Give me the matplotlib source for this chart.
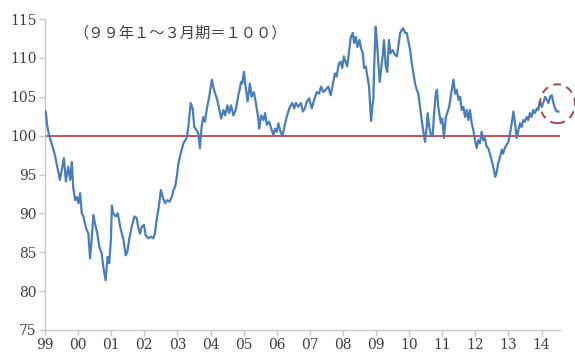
import numpy as np
import matplotlib
matplotlib.use("Agg")
import matplotlib.pyplot as plt
from matplotlib.patches import Ellipse

# 指数の推移（99年1～3月期=100）、横軸は1999年からの経過年
offsets = [
    0.02, 0.07, 0.12, 0.20, 0.30, 0.35, 0.40, 0.45, 0.57, 0.63, 0.70, 0.76, 0.81, 0.85,
    0.91, 0.96, 1.01, 1.06, 1.11, 1.16, 1.24, 1.31, 1.36, 1.41, 1.46, 1.51, 1.58, 1.64,
    1.71, 1.76, 1.83, 1.89, 1.94, 1.99, 2.02, 2.06, 2.14, 2.20, 2.27, 2.32, 2.37, 2.44,
    2.49, 2.54, 2.62, 2.70, 2.77, 2.82, 2.87, 2.92, 2.99, 3.04, 3.12, 3.20, 3.27, 3.32,
    3.37, 3.44, 3.50, 3.57, 3.63, 3.69, 3.76, 3.83, 3.88, 3.93, 3.98, 4.03, 4.08, 4.18,
    4.28, 4.33, 4.40, 4.46, 4.51, 4.58, 4.63, 4.68, 4.73, 4.78, 4.83, 4.90, 4.96, 5.04,
    5.08, 5.14, 5.19, 5.27, 5.32, 5.39, 5.44, 5.51, 5.56, 5.62, 5.69, 5.76, 5.84, 5.89,
    5.92, 5.96, 6.01, 6.06, 6.12, 6.19, 6.24, 6.31, 6.37, 6.43, 6.47, 6.53, 6.60, 6.65,
    6.70, 6.77, 6.85, 6.90, 6.95, 7.00, 7.05, 7.10, 7.17, 7.23, 7.30, 7.35, 7.40, 7.47,
    7.53, 7.58, 7.65, 7.73, 7.79, 7.85, 7.90, 7.98, 8.06, 8.13, 8.21, 8.28, 8.34, 8.41,
    8.48, 8.56, 8.63, 8.69, 8.76, 8.81, 8.88, 8.93, 8.98, 9.03, 9.08, 9.13, 9.19, 9.24,
    9.30, 9.34, 9.39, 9.44, 9.50, 9.55, 9.60, 9.64, 9.69, 9.74, 9.79, 9.82, 9.85, 9.89,
    9.92, 9.94, 9.99, 10.03, 10.07, 10.11, 10.15, 10.20, 10.24, 10.29, 10.34, 10.39,
    10.44, 10.50, 10.57, 10.63, 10.67, 10.73, 10.78, 10.82, 10.88, 10.93, 10.98, 11.03,
    11.08, 11.13, 11.18, 11.23, 11.28, 11.33, 11.38, 11.43, 11.48, 11.53, 11.56, 11.61,
    11.66, 11.71, 11.75, 11.80, 11.84, 11.88, 11.96, 12.00, 12.05, 12.11, 12.15, 12.21,
    12.27, 12.34, 12.39, 12.44, 12.49, 12.54, 12.59, 12.64, 12.69, 12.74, 12.79, 12.84,
    12.89, 12.94, 12.99, 13.04, 13.09, 13.14, 13.19, 13.24, 13.29, 13.34, 13.39, 13.44,
    13.49, 13.54, 13.60, 13.64, 13.69, 13.75, 13.80, 13.84, 13.90, 14.00, 14.05, 14.10,
    14.15, 14.20, 14.25, 14.30, 14.35, 14.40, 14.45, 14.50, 14.55, 14.60, 14.65, 14.70,
    14.75, 14.80, 14.86, 14.90, 14.95, 15.01, 15.05, 15.11, 15.16, 15.21, 15.26, 15.31,
    15.36, 15.41, 15.46, 15.51,
]
index_values = [
    103.1, 101.2, 100.1, 99.0, 97.5, 96.4, 95.4, 94.3, 97.1, 94.1, 96.0, 94.3, 96.6, 93.4,
    91.7, 92.1, 91.3, 92.6, 90.0, 89.6, 88.1, 87.4, 84.2, 86.6, 89.8, 88.7, 87.4, 85.7,
    84.9, 83.1, 81.4, 84.4, 83.6, 86.6, 91.0, 90.0, 89.6, 90.0, 88.3, 87.4, 86.6, 84.6,
    85.1, 86.6, 88.3, 89.6, 89.4, 88.1, 87.4, 88.3, 88.5, 87.2, 86.8, 87.0, 86.8, 87.4,
    89.1, 90.9, 93.0, 91.9, 91.3, 91.7, 91.5, 92.1, 93.0, 93.4, 94.7, 96.4, 97.4, 99.0,
    99.7, 101.1, 104.2, 103.5, 101.1, 100.7, 100.3, 98.4, 101.1, 102.4, 101.8, 103.7, 105.0, 107.2,
    106.3, 105.4, 104.8, 103.3, 102.2, 103.3, 102.6, 103.9, 102.9, 103.9, 102.6, 103.3, 105.2, 106.1,
    106.9, 106.7, 108.2, 106.3, 104.4, 106.7, 105.0, 105.6, 104.2, 102.6, 100.9, 102.6, 102.0, 102.9,
    101.4, 101.8, 100.7, 100.1, 100.9, 100.5, 101.6, 100.7, 99.9, 101.1, 102.4, 103.1, 103.7, 104.2,
    103.5, 104.2, 103.7, 104.2, 103.1, 103.5, 104.3, 104.8, 103.5, 104.6, 105.6, 105.4, 106.3, 105.6,
    105.9, 106.3, 105.2, 106.5, 108.0, 107.6, 109.3, 109.5, 108.7, 110.2, 109.5, 108.9, 111.0, 112.7,
    113.2, 111.9, 112.7, 111.4, 112.3, 111.2, 110.6, 108.7, 108.9, 107.6, 106.3, 104.0, 101.9, 103.8,
    104.6, 108.4, 114.0, 111.9, 109.3, 106.9, 108.4, 110.2, 112.3, 109.1, 108.2, 112.3,
    110.6, 111.0, 110.4, 110.2, 111.4, 113.2, 113.6, 113.8, 113.2, 113.2, 112.1, 111.0,
    109.3, 108.0, 106.7, 105.9, 105.4, 103.7, 102.0, 100.5, 99.2, 101.1, 102.9, 101.1,
    100.1, 99.9, 102.6, 105.2, 105.9, 103.7, 101.6, 102.2, 99.7, 102.4, 102.9, 103.7,
    105.4, 107.2, 105.4, 105.9, 104.6, 105.0, 103.3, 103.7, 102.4, 103.3, 102.0, 103.3,
    101.6, 100.7, 99.4, 98.4, 99.4, 99.0, 100.5, 99.4, 99.7, 98.6, 98.4, 97.7,
    96.9, 96.0, 94.7, 95.2, 96.4, 97.3, 98.2, 97.7, 98.5, 99.2, 100.3, 101.6,
    103.1, 101.6, 99.7, 100.7, 101.6, 101.1, 102.0, 101.8, 102.4, 102.0, 102.9, 102.4,
    103.3, 102.9, 103.5, 103.3, 104.4, 103.7, 104.2, 105.0, 104.6, 104.2, 105.0, 105.2,
    104.2, 103.5, 103.1, 103.1,
]
tick_years = list(range(1999, 2015))
tick_labels = ["%02d" % (y % 100) for y in tick_years]
base_level = 100
title_text = "（９９年１～３月期＝１００）"

years = 1999 + np.array(offsets)

fig = plt.figure(figsize=(5.75, 3.54), dpi=100)
ax = fig.add_axes([0.0783, 0.0678, 0.8957, 0.8785])

ax.plot(years, index_values, color="#4a7ebb", lw=1.6, zorder=3)
ax.axhline(base_level, color="#c8504d", lw=1.4, zorder=2)

# 直近の動きを囲む点線の円
ax.add_patch(Ellipse((2014.48, 104.1), 1.06, 5.0, fill=False, ec="#a04848",
                     lw=1.4, ls=(0, (4, 3)), clip_on=False, zorder=4))

ax.set_xlim(1999, 2014.56)
ax.set_ylim(75, 115)
ax.set_xticks(tick_years)
ax.set_xticklabels(tick_labels)
ax.set_yticks(range(75, 116, 5))

for side in ("top", "right"):
    ax.spines[side].set_visible(False)
for side in ("left", "bottom"):
    ax.spines[side].set_color("#c8c8c8")
    ax.spines[side].set_linewidth(1.0)

ax.tick_params(axis="both", direction="out", length=4, width=1.0, color="#c8c8c8",
               labelsize=10, labelcolor="#404040", pad=2)
for lab in ax.get_xticklabels() + ax.get_yticklabels():
    lab.set_family("DejaVu Serif")

ax.text(0.056, 0.955, title_text, transform=ax.transAxes, ha="left", va="center",
        fontsize=11, color="#404040", family=["Noto Sans CJK JP", "DejaVu Sans"])

fig.savefig("out.png", dpi=100)
